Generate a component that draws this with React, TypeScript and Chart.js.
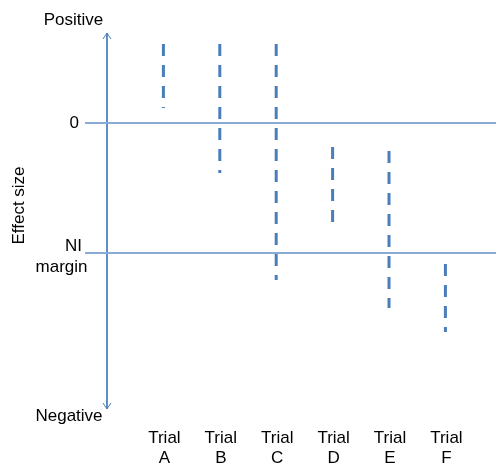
import React, { useEffect, useRef } from "react";
import { Chart, registerables } from "chart.js";

Chart.register(...registerables);

const trials = ["A", "B", "C", "D", "E", "F"];
const trialX = [1, 2, 3, 4, 5, 6];
const upper = [0.608, 0.608, 0.608, -0.185, -0.215, -1.085];
const lower = [0.115, -0.385, -1.208, -0.762, -1.423, -1.608];
const refLines = [0, -1];
const refLabels = ["0", "NI margin"];
const axisLabels = ["Positive", "Negative", "Effect size"];

const X_MIN = -0.39;
const X_MAX = 6.897;
const Y_MIN = -2.2;
const Y_MAX = 0.6923;

const FONT = "17px 'Liberation Sans', Arial, sans-serif";

const textPlugin = {
  id: "textPlugin",
  afterDraw(chart: any) {
    const ctx = chart.ctx;
    const xs = chart.scales.x;
    const ys = chart.scales.y;
    const ax = xs.getPixelForValue(0);
    const top = ys.getPixelForValue(Y_MAX);
    const bottom = ys.getPixelForValue(Y_MIN);
    ctx.save();
    // arrowheads
    ctx.strokeStyle = "#4a7ebb";
    ctx.lineWidth = 1;
    ctx.beginPath();
    ctx.moveTo(ax - 4, top + 6);
    ctx.lineTo(ax, top);
    ctx.lineTo(ax + 4, top + 6);
    ctx.moveTo(ax - 4, bottom - 6);
    ctx.lineTo(ax, bottom);
    ctx.lineTo(ax + 4, bottom - 6);
    ctx.stroke();

    ctx.fillStyle = "#000";
    ctx.font = FONT;
    ctx.textBaseline = "alphabetic";
    ctx.textAlign = "center";
    ctx.fillText(axisLabels[0], 73.5, top - 8);
    ctx.fillText(axisLabels[1], 69, bottom + 12);

    const y0 = ys.getPixelForValue(refLines[0]);
    ctx.textAlign = "right";
    ctx.fillText(refLabels[0], 79, y0 + 5);
    const y1 = ys.getPixelForValue(refLines[1]);
    const parts = refLabels[1].split(" ");
    ctx.fillText(parts[0], 82, y1 - 2);
    ctx.textAlign = "center";
    ctx.fillText(parts[1], 61.5, y1 + 19);

    trials.forEach((t, i) => {
      const px = xs.getPixelForValue(trialX[i]) + 1;
      ctx.fillText("Trial", px, 443);
      ctx.fillText(t, px, 463);
    });

    ctx.save();
    ctx.translate(24, 205.5);
    ctx.rotate(-Math.PI / 2);
    ctx.font = "17px 'Liberation Sans', Arial, sans-serif";
    ctx.textAlign = "center";
    ctx.fillText(axisLabels[2], 0, 0);
    ctx.restore();
    ctx.restore();
  },
};

export default function App() {
  const ref = useRef<HTMLCanvasElement>(null);
  useEffect(() => {
    document.body.style.margin = "0";
    const datasets: any[] = [];
    refLines.forEach((v) => {
      datasets.push({
        data: [
          { x: X_MIN, y: v },
          { x: X_MAX, y: v },
        ],
        borderColor: "#8aabd6",
        borderWidth: 2,
        pointRadius: 0,
        clip: false,
      });
    });
    datasets.push({
      data: [
        { x: 0, y: Y_MAX },
        { x: 0, y: Y_MIN },
      ],
      borderColor: "#4a7ebb",
      borderWidth: 1,
      pointRadius: 0,
      clip: false,
    });
    trials.forEach((t, i) => {
      datasets.push({
        label: "Trial " + t,
        data: [
          { x: trialX[i], y: upper[i] },
          { x: trialX[i], y: lower[i] },
        ],
        borderColor: "#4a7ebb",
        borderWidth: 3,
        borderDash: [12, 9],
        borderCapStyle: "butt",
        pointRadius: 0,
        clip: false,
      });
    });
    const chart = new Chart(ref.current!, {
      type: "line",
      data: { datasets },
      options: {
        animation: false,
        responsive: false,
        layout: { padding: { left: 85, right: 0, top: 33, bottom: 56 } },
        plugins: { legend: { display: false }, tooltip: { enabled: false } },
        scales: {
          x: { type: "linear", min: X_MIN, max: X_MAX, display: false },
          y: { type: "linear", min: Y_MIN, max: Y_MAX, display: false },
        },
      },
      plugins: [textPlugin],
    });
    return () => chart.destroy();
  }, []);
  return (
    <canvas
      ref={ref}
      width={496}
      height={465}
      style={{ display: "block", width: 496, height: 465 }}
    />
  );
}
